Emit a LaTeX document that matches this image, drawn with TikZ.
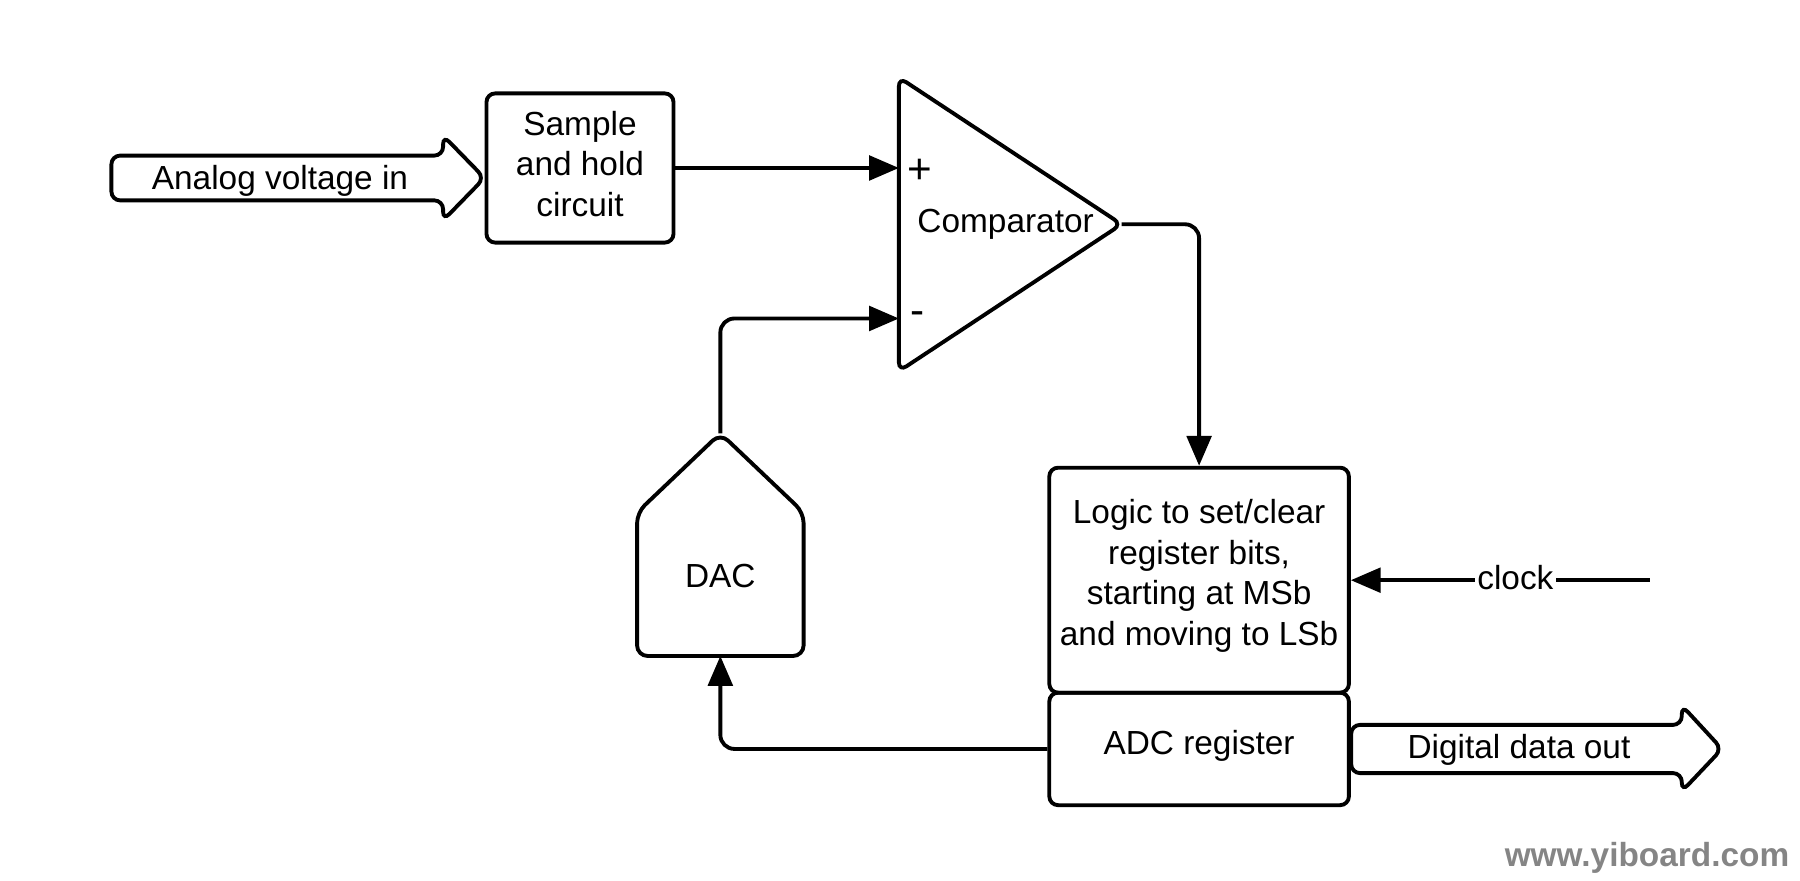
\documentclass[tikz,border=0pt]{standalone}
\usepackage{fontspec}
\setmainfont{Liberation Sans}
\usetikzlibrary{arrows.meta}
\begin{document}
\begin{tikzpicture}[
  font=\fontsize{9.5}{11.6}\selectfont,
  blok/.style={draw, line width=1.1pt, rounded corners=2.5pt, align=center, inner sep=0pt},
  contour/.style={line width=1.1pt, rounded corners=2.5pt},
  signe/.style={font=\fontsize{12}{12}\selectfont},
  fil/.style={line width=1.1pt, rounded corners=4pt},
  fleche/.style={fil, -{Triangle[length=8.5pt,width=7pt]}}]
\useasboundingbox (0,0) rectangle (18,8.81);

% entree analogique
\draw[contour] (1.114,7.254) -- (4.431,7.254) -- (4.431,7.455) -- (4.845,7.03)
   -- (4.431,6.605) -- (4.431,6.806) -- (1.114,6.806) -- cycle;
\node (ain) at (2.8,7.0) {Analog voltage in};

\node[blok, minimum width=1.871cm, minimum height=1.492cm] (sh) at (5.80,7.13) {};
\node[align=center] (shtext) at (5.80,7.17) {Sample\\and hold\\circuit};

% comparateur
\coordinate (cA) at (8.989,8.036);
\coordinate (cB) at (8.989,5.097);
\coordinate (cC) at (11.216,6.567);
\draw[contour] (cA) -- (cC) -- (cB) -- cycle;
\node (comp) at (10.056,6.57) {Comparator};
\coordinate (plus) at (8.989,7.13);
\coordinate (minus) at (8.989,5.625);
\node[signe] (plabel) at (9.2,7.10) {+};
\node[signe] (mlabel) at (9.18,5.63) {-};

% logique et registre
\node[blok, minimum width=2.996cm, minimum height=2.25cm] (logic) at (11.991,3.008) {};
\node[align=center] (logictext) at (11.991,3.05)
     {Logic to set/clear\\register bits,\\starting at MSb\\and moving to LSb};
\node[blok, minimum width=2.996cm, minimum height=1.125cm] (adc) at (11.991,1.3205) {};
\node (adctext) at (11.991,1.35) {ADC register};

% DAC
\draw[line width=1.1pt, rounded corners=3pt] (6.371,2.25) -- (6.371,3.685) -- (7.2035,4.477)
   -- (8.036,3.685) -- (8.036,2.25) -- cycle;
\node (dac) at (7.2035,3.054) {DAC};
\coordinate (dactip) at (7.2035,4.477);
\coordinate (dacbot) at (7.2035,2.25);

% horloge
\coordinate (clk) at (16.497,3.008);
\node[inner sep=0.5pt] (clock) at (15.154,3.03) {clock};

% sortie numerique
\draw[contour] (13.512,1.561) -- (16.818,1.561) -- (16.818,1.756) -- (17.22,1.32)
   -- (16.818,0.895) -- (16.818,1.079) -- (13.512,1.079) -- cycle;
\node (dout) at (15.19,1.31) {Digital data out};

\node[text=black!48, font=\fontsize{9.5}{11}\selectfont\bfseries] (wm) at (16.47,0.23) {www.yiboard.com};

% liaisons
\draw[fleche] (sh.east) -- (plus);
\draw[fleche] (dactip) |- (minus);
\draw[fleche] (cC) -| (logic.north);
\draw[fil] (clk) -- (clock.east |- clk);
\draw[fleche] (clock.west |- clk) -- (logic.east);
\draw[fleche] (adc.west) -| (dacbot);
\end{tikzpicture}
\end{document}
